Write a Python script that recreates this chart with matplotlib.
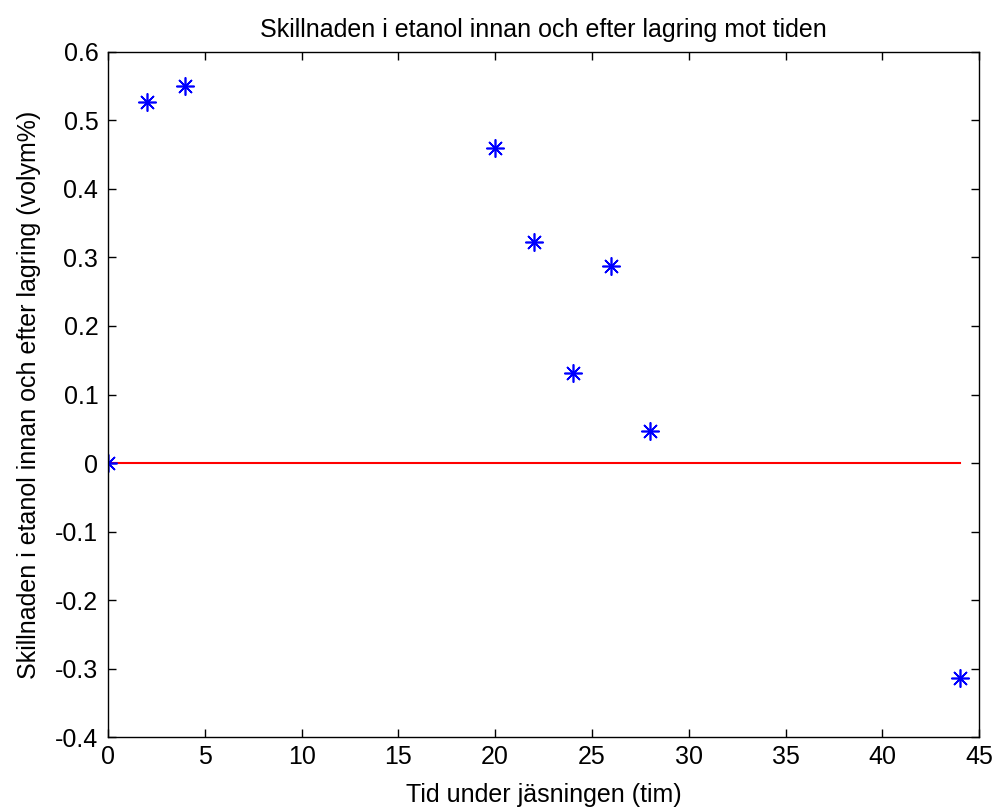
import matplotlib
matplotlib.use('Agg')
import matplotlib.pyplot as plt

# tid (timmar) och skillnad i etanol (volym%)
tid = [0, 2, 4, 20, 22, 24, 26, 28, 44]
skillnad = [0, 0.527, 0.550, 0.460, 0.322, 0.131, 0.287, 0.047, -0.314]
noll_x = [0, 44]
noll_y = [0, 0]

xticks = [0, 5, 10, 15, 20, 25, 30, 35, 40, 45]
yticks = [-0.4, -0.3, -0.2, -0.1, 0, 0.1, 0.2, 0.3, 0.4, 0.5, 0.6]

plt.rcParams['font.family'] = ['Liberation Sans', 'DejaVu Sans']
plt.rcParams['font.size'] = 18

fig = plt.figure(figsize=(9.94, 8.07), dpi=100)
ax = fig.add_axes([0.1087, 0.0867, 0.8763, 0.8489])

ax.plot(noll_x, noll_y, 'r-', linewidth=1.5)
ax.plot(tid, skillnad, linestyle='none', marker=(8, 2, 0), color='b',
        markersize=13, markeredgewidth=1.2)

ax.set_xlim(0, 45)
ax.set_ylim(-0.4, 0.6)
ax.set_xticks(xticks)
ax.set_xticklabels([str(t) for t in xticks])
ax.set_yticks(yticks)
ax.set_yticklabels(['%g' % t for t in yticks])
ax.tick_params(direction='in', top=True, right=True, length=6, width=1)
ax.tick_params(axis='y', pad=7)
ax.tick_params(axis='x', pad=6)
for s in ax.spines.values():
    s.set_linewidth(1)

ax.set_title('Skillnaden i etanol innan och efter lagring mot tiden', fontsize=18, pad=11)
ax.set_xlabel('Tid under jäsningen (tim)', labelpad=10)
ax.set_ylabel('Skillnaden i etanol innan och efter lagring (volym%)', labelpad=10)

fig.savefig('out.png', dpi=100)
